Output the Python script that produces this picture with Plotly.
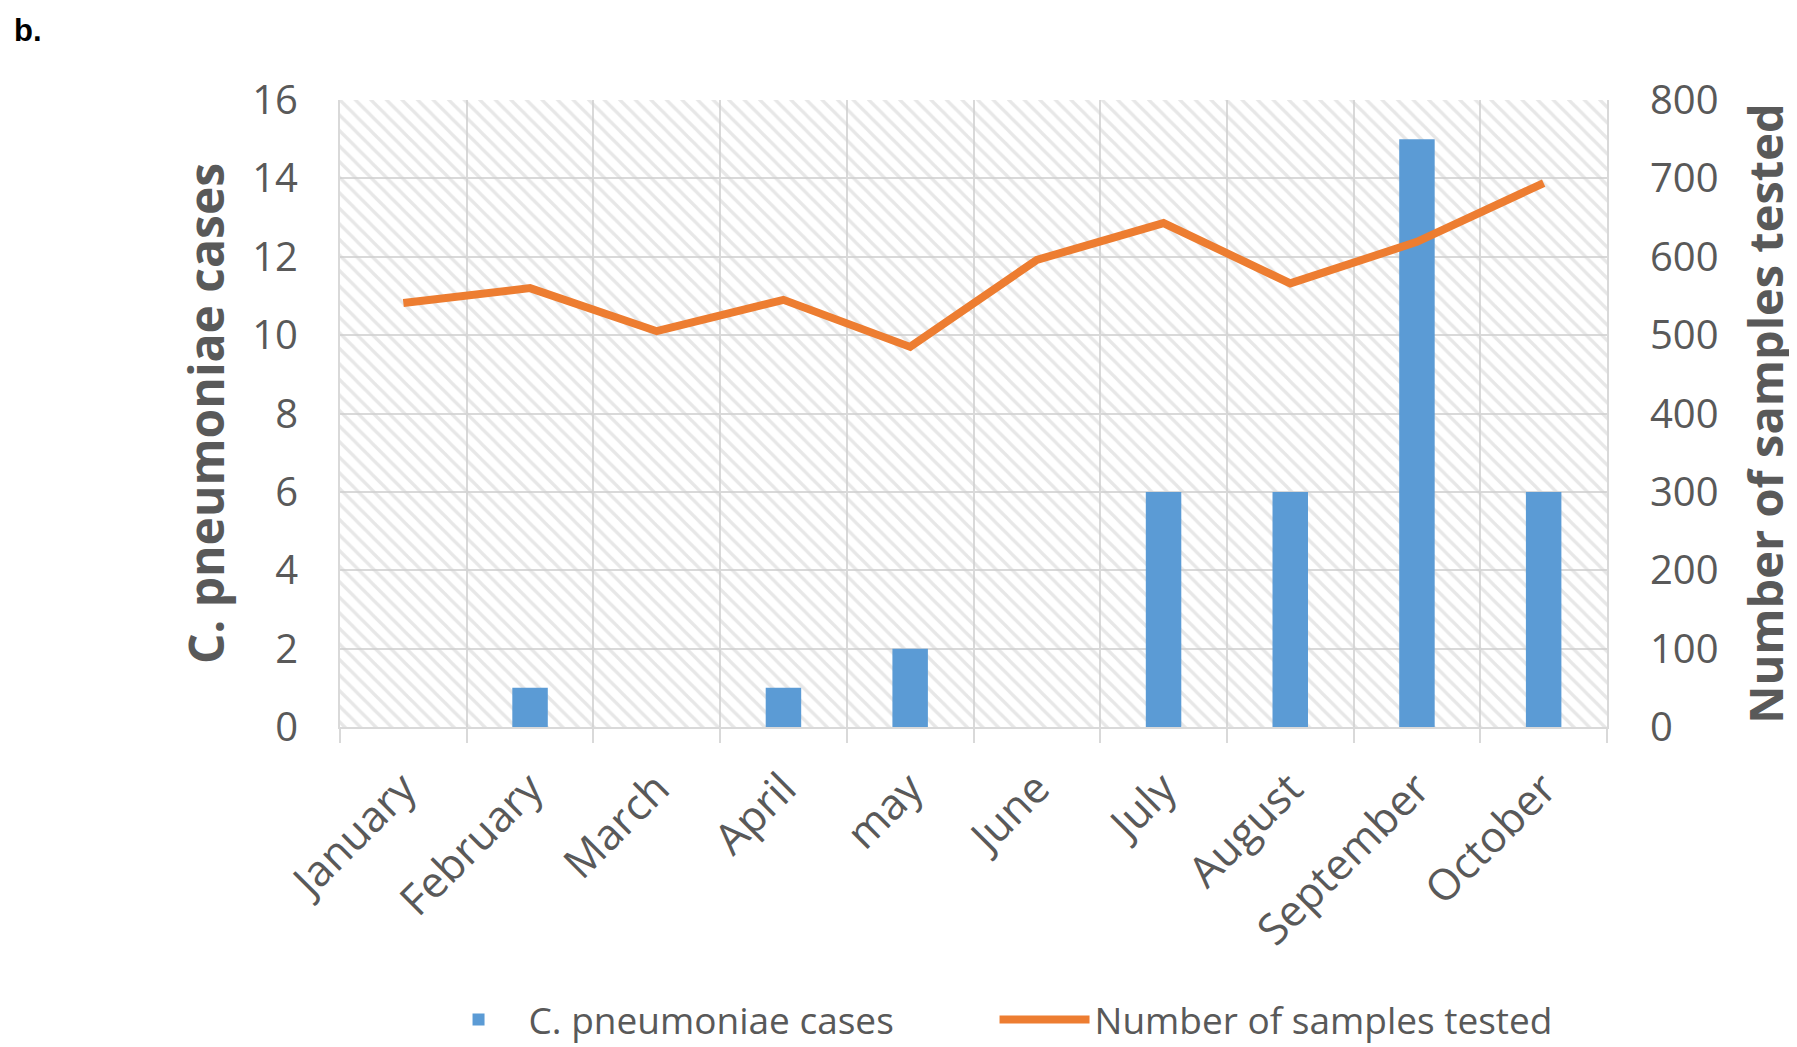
import plotly.graph_objects as go

months = ["January", "February", "March", "April", "may", "June",
          "July", "August", "September", "October"]
cases = [0, 1, 0, 1, 2, 0, 6, 6, 15, 6]
samples = [541, 560, 505, 545, 485, 596, 643, 566, 619, 694]

Y1_MAX = 16
Y2_MAX = 800
GRID = "#d9d9d9"
TXT = "#595959"
FONT = "Open Sans"

fig = go.Figure()

# hatched plot-area background (decoration)
fig.add_trace(go.Bar(
    x=months, y=[Y1_MAX] * len(months), width=1,
    marker=dict(color="rgba(0,0,0,0)", line=dict(width=0),
                pattern=dict(shape="\\", size=11, solidity=0.3,
                             fgcolor="#d0d0d0", bgcolor="rgba(0,0,0,0)")),
    showlegend=False, hoverinfo="skip", yaxis="y"))

fig.add_trace(go.Bar(
    x=months, y=cases, width=0.28, name="C. pneumoniae cases",
    marker=dict(color="#5B9BD5", line=dict(width=0)), yaxis="y"))

fig.add_trace(go.Scatter(
    x=months, y=samples, mode="lines", name="Number of samples tested",
    line=dict(color="#ED7D31", width=8), yaxis="y2"))

fig.update_layout(
    width=1789, height=1039,
    paper_bgcolor="white", plot_bgcolor="white",
    margin=dict(l=332, r=190, t=92, b=320),
    barmode="overlay",
    font=dict(family=FONT, color=TXT),
    xaxis=dict(
        type="category", range=[-0.5, 9.5], tickangle=-45, automargin=False,
        tickson="boundaries", ticks="outside", ticklen=14, tickcolor=GRID,
        tickwidth=2, showgrid=True, gridcolor=GRID, gridwidth=2,
        showline=True, linecolor=GRID, linewidth=2, ticklabelstandoff=17,
        tickfont=dict(family=FONT, size=43, color=TXT)),
    yaxis=dict(
        range=[0, Y1_MAX], dtick=2, showgrid=True, gridcolor=GRID, gridwidth=2,
        zeroline=False, showline=True, linecolor=GRID, linewidth=2,
        ticks="", ticklabelstandoff=32, automargin=False,
        tickfont=dict(family=FONT, size=40, color=TXT),
        title=dict(text="C. pneumoniae cases", standoff=12,
                   font=dict(family=FONT, size=48, color=TXT, weight="bold"))),
    yaxis2=dict(
        range=[0, Y2_MAX], dtick=100, overlaying="y", side="right",
        showgrid=False, zeroline=False, showline=True, linecolor=GRID,
        linewidth=2, ticks="", ticklabelstandoff=33, automargin=False,
        tickfont=dict(family=FONT, size=40, color=TXT),
        title=dict(text="Number of samples tested", standoff=35,
                   font=dict(family=FONT, size=47, color=TXT, weight="bold"))),
    legend=dict(orientation="h", x=0.5166, xanchor="center",
                yref="container", y=0.026, yanchor="middle",
                font=dict(family=FONT, size=37, color=TXT),
                itemwidth=90, entrywidth=461, entrywidthmode="pixels"),
    annotations=[dict(text="<b>b.</b>", xref="paper", yref="paper",
                      x=-332 / 1267, y=1 + 92 / 627, xanchor="left",
                      yanchor="top", xshift=4, yshift=-3, showarrow=False,
                      font=dict(family="Liberation Sans", size=31,
                                color="black"))],
)

fig.write_html("out.html")
